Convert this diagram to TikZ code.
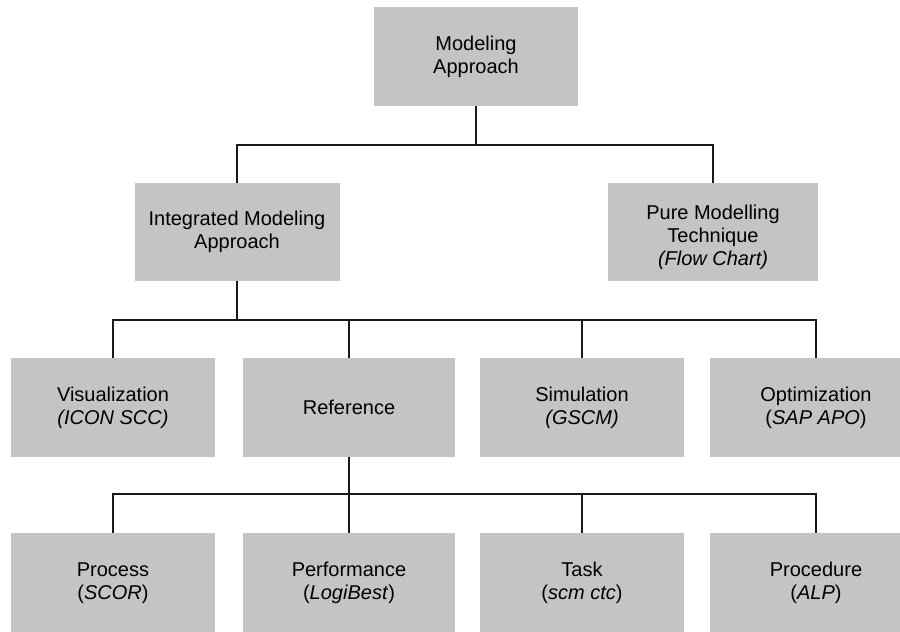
\documentclass[tikz,border=0pt]{standalone}
\usepackage{fontspec}
\setmainfont{Liberation Sans}
\begin{document}
\begin{tikzpicture}[x=1pt,y=-1pt,
  box/.style={fill=black!23, draw=none, inner sep=0pt, align=center,
    font=\fontsize{20}{23}\selectfont, text=black},
  boxtext/.style={align=center, inner sep=0pt, font=\fontsize{20}{23}\selectfont, text=black},
  link/.style={line width=1.6pt, black!90}]
\useasboundingbox (0,0) rectangle (900,632);
% level 1
\node[box, minimum width=204, minimum height=99] (top) at (476,56.5) {Modeling\\Approach};
% level 2
\node[box, minimum width=205, minimum height=98] (integ) at (237,232) {Integrated Modeling\\Approach};
\node[box, minimum width=210, minimum height=98] (pure) at (713,232) {};
\node[boxtext] (puretext) at ([yshift=-5]pure.center) {Pure Modelling\\Technique\\\textit{(Flow Chart)}};
% level 3
\node[box, minimum width=204, minimum height=99] (vis) at (113,407.5) {Visualization\\\textit{(ICON SCC)}};
\node[box, minimum width=212, minimum height=99] (ref) at (349,407.5) {Reference};
\node[box, minimum width=204, minimum height=99] (sim) at (582,407.5) {Simulation\\\textit{(GSCM)}};
\node[box, minimum width=212, minimum height=99] (opt) at (816,407.5) {Optimization\\(\textit{SAP APO})};
% level 4
\node[box, minimum width=204, minimum height=100] (proc) at (113,583) {Process\\(\textit{SCOR})};
\node[box, minimum width=212, minimum height=100] (perf) at (349,583) {Performance\\(\textit{LogiBest})};
\node[box, minimum width=204, minimum height=100] (task) at (582,583) {Task\\(\textit{scm ctc})};
\node[box, minimum width=212, minimum height=100] (procd) at (816,583) {Procedure\\(\textit{ALP})};
% buses
\coordinate (bus1) at (0,145);
\coordinate (bus2) at (0,320);
\coordinate (bus3) at (0,494);
\draw[link] (top.south) -- (top.south |- bus1);
\draw[link] (integ.north) -- (integ.north |- bus1) -- (pure.north |- bus1) -- (pure.north);
\draw[link] (integ.south) -- (integ.south |- bus2);
\draw[link] (vis.north) -- (vis.north |- bus2) -- (opt.north |- bus2) -- (opt.north);
\draw[link] (ref.north) -- (ref.north |- bus2);
\draw[link] (sim.north) -- (sim.north |- bus2);
\draw[link] (ref.south) -- (ref.south |- bus3);
\draw[link] (proc.north) -- (proc.north |- bus3) -- (procd.north |- bus3) -- (procd.north);
\draw[link] (perf.north) -- (perf.north |- bus3);
\draw[link] (task.north) -- (task.north |- bus3);
\end{tikzpicture}
\end{document}
